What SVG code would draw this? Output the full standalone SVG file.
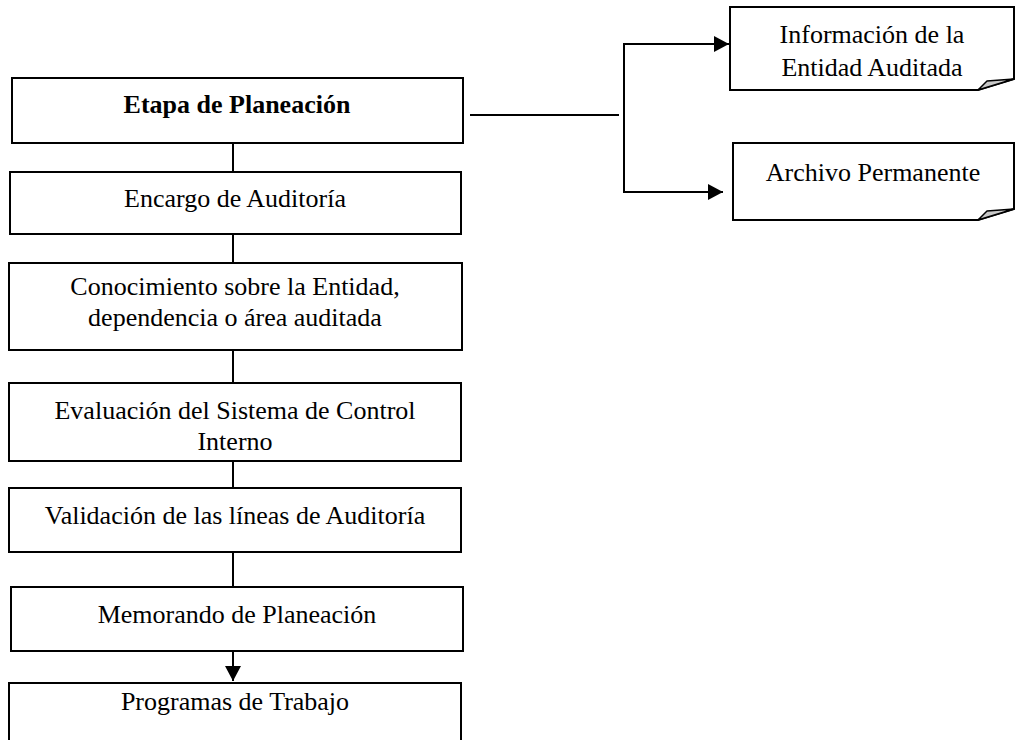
<svg xmlns="http://www.w3.org/2000/svg" width="1017" height="740" viewBox="0 0 1017 740">
<style>
.box{fill:#fff;stroke:#000;stroke-width:2}
.t{font-family:"Liberation Serif","Times New Roman",serif;font-size:26px;fill:#000;text-anchor:middle}
.b{font-weight:bold}
.ln{fill:none;stroke:#000;stroke-width:2}
.fold{fill:#c8c8c8;stroke:#000;stroke-width:1.5;stroke-linejoin:round}
</style>
<defs>
<marker id="ah" markerUnits="userSpaceOnUse" markerWidth="16" markerHeight="16" viewBox="0 0 16 16" refX="15" refY="8" orient="auto">
<path d="M0,0 L15,8 L0,16 Z" fill="#000"/>
</marker>
</defs>
<rect width="1017" height="740" fill="#fff"/>
<g id="connectors">
<line class="ln" x1="233" y1="143" x2="233" y2="172"/>
<line class="ln" x1="233" y1="234" x2="233" y2="263"/>
<line class="ln" x1="233" y1="350" x2="233" y2="383"/>
<line class="ln" x1="233" y1="461" x2="233" y2="488"/>
<line class="ln" x1="233" y1="552" x2="233" y2="587"/>
<line class="ln" x1="233" y1="651" x2="233" y2="681" marker-end="url(#ah)"/>
<line class="ln" x1="470" y1="115" x2="619" y2="115"/>
<polyline class="ln" points="729,44 624,44 624,192 723,192" style="marker:none"/>
<line class="ln" x1="700" y1="44" x2="729" y2="44" marker-end="url(#ah)"/>
<line class="ln" x1="700" y1="192" x2="723" y2="192" marker-end="url(#ah)"/>
</g>
<g id="n1"><rect class="box" x="12" y="78" width="451" height="65"/><text class="t b" x="237" y="113">Etapa de Planeación</text></g>
<g id="n2"><rect class="box" x="10" y="172" width="451" height="62"/><text class="t" x="235" y="207">Encargo de Auditoría</text></g>
<g id="n3"><rect class="box" x="9" y="263" width="453" height="87"/><text class="t" x="235" y="295">Conocimiento sobre la Entidad,</text><text class="t" x="235" y="326">dependencia o área auditada</text></g>
<g id="n4"><rect class="box" x="9" y="383" width="452" height="78"/><text class="t" x="235" y="419">Evaluación del Sistema de Control</text><text class="t" x="235" y="450">Interno</text></g>
<g id="n5"><rect class="box" x="9" y="488" width="452" height="64"/><text class="t" x="235" y="524">Validación de las líneas de Auditoría</text></g>
<g id="n6"><rect class="box" x="11" y="587" width="452" height="64"/><text class="t" x="237" y="623">Memorando de Planeación</text></g>
<g id="n7"><rect class="box" x="9" y="683" width="452" height="80"/><text class="t" x="235" y="710">Programas de Trabajo</text></g>
<g id="d1"><path class="box" d="M730,7 H1014 V79 L978,90 H730 Z"/><path class="fold" d="M978,90 L987,81 L1014,79 Z"/><text class="t" x="872" y="43">Información de la</text><text class="t" x="872" y="76">Entidad Auditada</text></g>
<g id="d2"><path class="box" d="M733,143 H1014 V209 L978,220 H733 Z"/><path class="fold" d="M978,220 L987,211 L1014,209 Z"/><text class="t" x="873" y="181">Archivo Permanente</text></g>
</svg>
